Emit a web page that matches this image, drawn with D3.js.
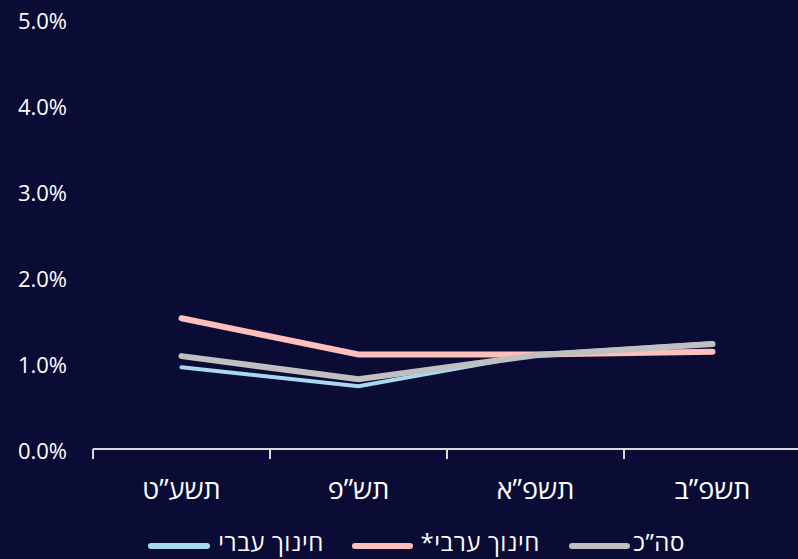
<!DOCTYPE html>
<html>
<head>
<meta charset="utf-8">
<script src="https://cdn.jsdelivr.net/npm/d3@7"></script>
<style>
html,body{margin:0;padding:0;background:#0a0c36;}
svg{display:block;}
text{font-family:"Open Sans","DejaVu Sans",sans-serif;fill:#ffffff;}
</style>
</head>
<body>
<svg id="chart" width="798" height="559"></svg>
<script>
const categories = ["תשע\u201dט", "תש\u201dפ", "תשפ\u201dא", "תשפ\u201dב"];
const hebrewEd = [0.95, 0.73, 1.10, 1.23];
const arabEd = [1.52, 1.10, 1.10, 1.13];
const total = [1.08, 0.81, 1.09, 1.22];
const yTicks = [0, 1, 2, 3, 4, 5];
const seriesNames = ["חינוך עברי", "*חינוך ערבי", "סה\u201dכ"];
const seriesColors = ["#a6d9f0", "#ffbfbd", "#c0c0c0"];

const series = [
  {name: seriesNames[0], values: hebrewEd, color: seriesColors[0], width: 4},
  {name: seriesNames[1], values: arabEd, color: seriesColors[1], width: 6},
  {name: seriesNames[2], values: total, color: seriesColors[2], width: 6}
];

const svg = d3.select("#chart");
const x = d3.scaleBand().domain(categories).range([93, 801]);
const y = d3.scaleLinear().domain([0, 5]).range([449, 19]);

// y labels
svg.append("g").selectAll("text").data(yTicks).join("text")
  .attr("x", 67).attr("y", d => y(d) + 2).attr("dy", "0.35em")
  .attr("text-anchor", "end").style("font-size", "22px")
  .text(d => d.toFixed(1) + "%");

// x axis
const gx = svg.append("g").attr("transform", "translate(0,449)");
gx.append("line").attr("x1", 93).attr("x2", 798).attr("y1", 0).attr("y2", 0)
  .attr("stroke", "#d9d9d9").attr("stroke-width", 2);
gx.selectAll("line.tick").data(categories).join("line").attr("class", "tick")
  .attr("x1", d => x(d)).attr("x2", d => x(d)).attr("y1", 0).attr("y2", 10)
  .attr("stroke", "#d9d9d9").attr("stroke-width", 2);
gx.selectAll("text").data(categories).join("text")
  .attr("x", d => x(d) + x.bandwidth() / 2).attr("y", 41).attr("dy", "0.35em")
  .attr("text-anchor", "middle").style("font-size", "27px")
  .text(d => d);

// lines
const line = d3.line().x((d, i) => x(categories[i]) + x.bandwidth() / 2).y(d => y(d));
svg.append("g").selectAll("path").data(series).join("path")
  .attr("d", d => line(d.values))
  .attr("fill", "none").attr("stroke", d => d.color)
  .attr("stroke-width", d => d.width)
  .attr("stroke-linecap", "round").attr("stroke-linejoin", "miter");

// legend
const legendItems = [
  {s: series[0], sx: 151, ex: 207, tx: 324},
  {s: series[1], sx: 355, ex: 410, tx: 540},
  {s: series[2], sx: 572, ex: 627, tx: 685}
];
const lg = svg.append("g");
legendItems.forEach(it => {
  lg.append("line").attr("x1", it.sx).attr("x2", it.ex).attr("y1", 546).attr("y2", 546)
    .attr("stroke", it.s.color).attr("stroke-width", 6).attr("stroke-linecap", "round");
  lg.append("text").attr("x", it.tx).attr("y", 543).attr("dy", "0.35em")
    .attr("text-anchor", "end").style("font-size", "24px").style("letter-spacing", "0.6px")
    .text(it.s.name);
});
</script>
</body>
</html>
